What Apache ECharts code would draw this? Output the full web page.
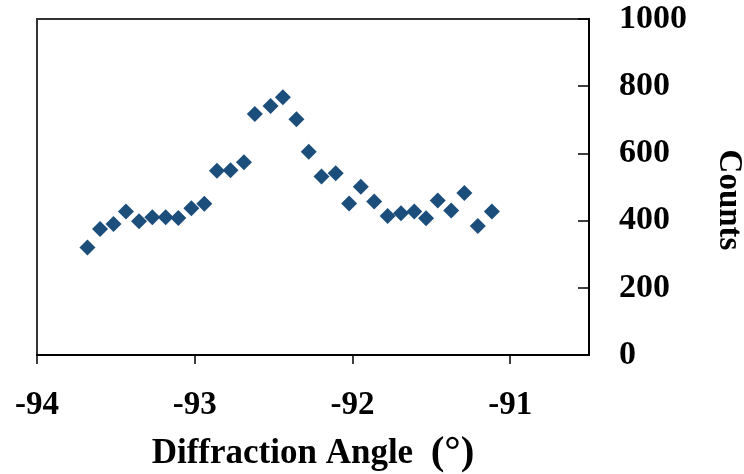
<!DOCTYPE html>
<html>
<head>
<meta charset="utf-8">
<script src="https://cdn.jsdelivr.net/npm/echarts@6/dist/echarts.min.js"></script>
<style>
  html, body {margin: 0; padding: 0; background: #fff;}
  #chart {width: 744px; height: 474px;}
</style>
</head>
<body>
<div id="chart"></div>
<script>
// diffraction angle (deg) and counts
var angles = [-93.68, -93.60, -93.515, -93.436, -93.353, -93.269, -93.184, -93.104,
  -93.021, -92.939, -92.859, -92.773, -92.688, -92.619, -92.519, -92.441,
  -92.355, -92.277, -92.196, -92.106, -92.021, -91.947, -91.862, -91.777,
  -91.692, -91.608, -91.533, -91.459, -91.374, -91.290, -91.205, -91.116]
var counts = [320, 375, 390, 427, 398, 410, 410, 408,
  437, 450, 548, 550, 574, 717, 741, 767,
  702, 605, 531, 541, 451, 501, 457, 414,
  422, 427, 407, 460, 430, 482, 384, 427]
var xTicks = [-94, -93, -92, -91]

var font = 'Liberation Serif'
var pts = angles.map(function (a, i) { return [a, counts[i]] })

var chart = echarts.init(document.getElementById('chart'))
window.addEventListener('resize', chart.resize)

var opt = {
  animation: false,
  grid: {left: 37, right: 155, top: 19, bottom: 119, outerBoundsMode: 'none', containLabel: false,
    show: true, borderColor: '#333', borderWidth: 2},
  xAxis: {
    type: 'value', min: -94, max: -90.5, interval: 1,
    name: 'Diffraction Angle  {p|(°)}', nameLocation: 'middle', nameGap: 78,
    nameTextStyle: {fontFamily: font, fontWeight: 'bold', fontSize: 35, color: '#000',
      rich: {p: {fontFamily: font, fontWeight: 'bold', fontSize: 41, color: '#000'}}},
    axisLine: {lineStyle: {color: '#000', width: 2}},
    axisTick: {inside: false, length: 9, lineStyle: {color: '#000', width: 1.5}, customValues: xTicks},
    axisLabel: {fontFamily: font, fontWeight: 'bold', fontSize: 33, color: '#000', margin: 34, customValues: xTicks,
      formatter: function (v) { return String(v) }},
    splitLine: {show: false}
  },
  yAxis: {
    type: 'value', position: 'right', min: 0, max: 1000, interval: 200,
    name: 'Counts', nameLocation: 'middle', nameGap: 123, nameRotate: -90,
    nameTextStyle: {fontFamily: font, fontWeight: 'bold', fontSize: 33, color: '#000', padding: [0, 0, 0, 26]},
    axisLine: {show: true, lineStyle: {color: '#000', width: 2}},
    axisTick: {show: true, inside: true, length: 11, lineStyle: {color: '#000', width: 1.5}},
    axisLabel: {fontFamily: font, fontWeight: 'bold', fontSize: 34, color: '#000', margin: 30,
      formatter: function (v) { return String(v) }},
    splitLine: {show: false}
  },
  series: [{
    type: 'scatter', symbol: 'diamond', symbolSize: 16,
    itemStyle: {color: '#1c4e7c', opacity: 1},
    data: pts
  }]
}
chart.setOption(opt)
</script>
</body>
</html>
